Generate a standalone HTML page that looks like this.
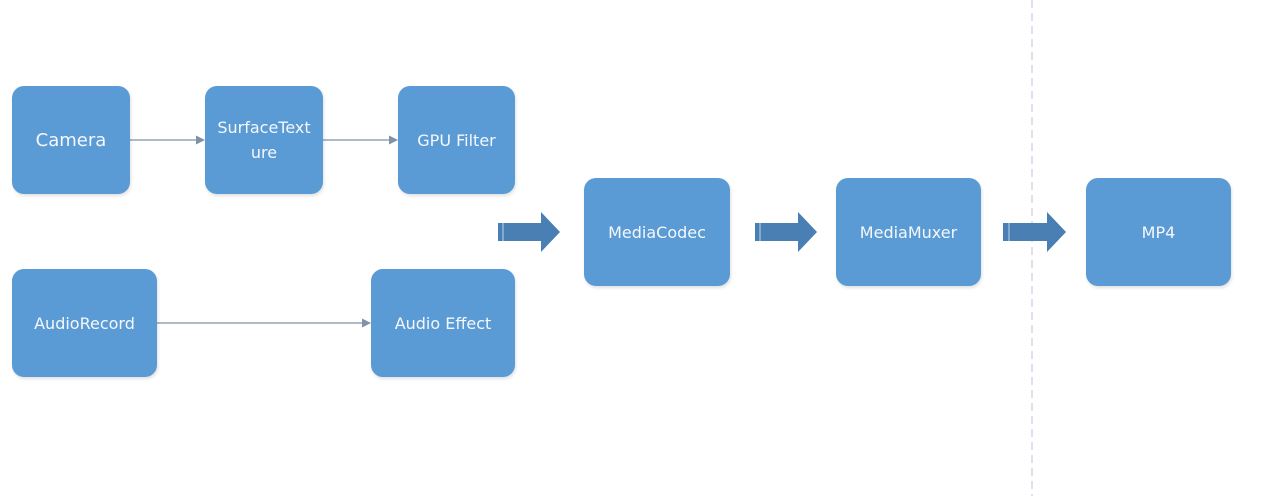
<!DOCTYPE html>
<html><head><meta charset="utf-8"><style>
html,body{margin:0;padding:0;background:#fff;}
body{width:1280px;height:496px;position:relative;overflow:hidden;font-family:"DejaVu Sans","Liberation Sans",sans-serif;}
.b{position:absolute;background:#5b9bd5;border-radius:12px;color:#f4f8fc;font-size:16px;display:flex;align-items:center;justify-content:center;text-align:center;line-height:25px;box-shadow:1px 2px 3px rgba(0,0,0,0.12);}
svg{position:absolute;left:0;top:0;}
</style></head><body>
<svg width="1280" height="496">
<line x1="1032" y1="0" x2="1032" y2="496" stroke="#c5bfd8" stroke-width="1" stroke-dasharray="8,5"/>
<g stroke="#7f93a8" stroke-width="1.3" fill="#7f93a8">
<line x1="130" y1="140" x2="198" y2="140"/><polygon points="205,140 196,135.5 196,144.5" stroke="none"/>
<line x1="323" y1="140" x2="391" y2="140"/><polygon points="398,140 389,135.5 389,144.5" stroke="none"/>
<line x1="157" y1="323" x2="364" y2="323"/><polygon points="371,323 362,318.5 362,327.5" stroke="none"/>
</g>
<g fill="#4a7fb3">
<polygon points="498,223 541,223 541,212 560,232 541,252 541,241 498,241"/>
<polygon points="755,223 798,223 798,212 817,232 798,252 798,241 755,241"/>
<polygon points="1003,223 1047,223 1047,212 1066,232 1047,252 1047,241 1003,241"/>
</g>
<g stroke="#a9c6e4" stroke-width="1.2">
<line x1="503" y1="223" x2="503" y2="241"/><line x1="760" y1="223" x2="760" y2="241"/><line x1="1009" y1="223" x2="1009" y2="241"/>
</g>
</svg>
<div class="b" style="left:12px;top:86px;width:118px;height:108px;font-size:18px;">Camera</div>
<div class="b" style="left:205px;top:86px;width:118px;height:108px;">SurfaceText<br>ure</div>
<div class="b" style="left:398px;top:86px;width:117px;height:108px;">GPU Filter</div>
<div class="b" style="left:12px;top:269px;width:145px;height:108px;">AudioRecord</div>
<div class="b" style="left:371px;top:269px;width:144px;height:108px;">Audio Effect</div>
<div class="b" style="left:584px;top:178px;width:146px;height:108px;">MediaCodec</div>
<div class="b" style="left:836px;top:178px;width:145px;height:108px;">MediaMuxer</div>
<div class="b" style="left:1086px;top:178px;width:145px;height:108px;">MP4</div>
</body></html>
